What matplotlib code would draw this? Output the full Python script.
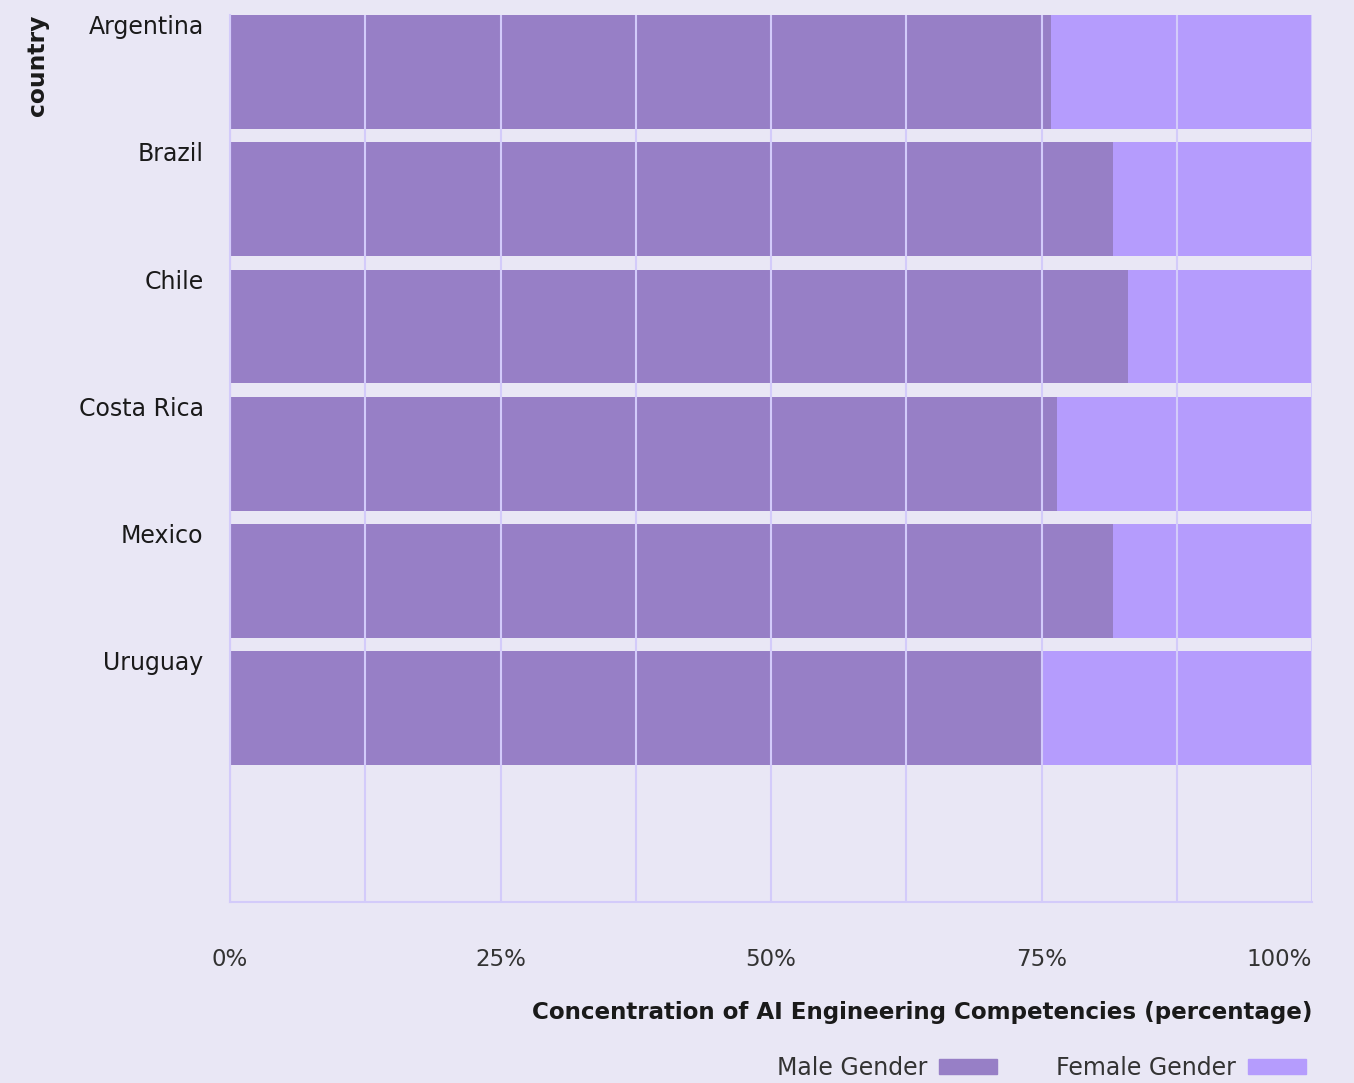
import matplotlib.pyplot as plt
import matplotlib.patches as mpatches
import numpy as np

plt.rcParams["font.family"] = ["DejaVu Sans"]

countries = ["Argentina", "Brazil", "Chile", "Costa Rica", "Mexico", "Uruguay"]
male = [75.9, 81.6, 83.0, 76.4, 81.6, 75.1]
female = [100 - m for m in male]

bg = "#E9E7F5"
male_color = "#977FC6"
female_color = "#B59CFD"
grid_color = "#D3CBFA"
text_color = "#1a1a1a"

fig = plt.figure(figsize=(13.54, 10.83), dpi=100, facecolor=bg)
ax = fig.add_axes([230 / 1354, 1 - 902 / 1083, 1082 / 1354, 887 / 1083])
ax.set_facecolor(bg)

y = np.arange(len(countries))
bar_h = 0.895
ax.barh(y, male, height=bar_h, align="edge", color=male_color, zorder=1)
ax.barh(y, female, left=male, height=bar_h, align="edge", color=female_color, zorder=1)

ax.set_xlim(0, 100)
ax.set_ylim(6.97, 0)

ax.set_xticks([0, 25, 50, 75, 100])
ax.set_xticklabels(["0%", "25%", "50%", "75%", "100%"], fontsize=16.5, color="#333333")
ax.get_xticklabels()[-1].set_ha("right")
ax.set_xticks(np.arange(0, 100.1, 12.5), minor=True)
ax.grid(axis="x", which="both", color=grid_color, linewidth=1.5, zorder=2)
ax.set_axisbelow(False)
ax.tick_params(axis="x", which="both", length=0, pad=33)

ax.set_yticks(y)
ax.set_yticklabels(countries, fontsize=17, color=text_color, va="top")
ax.tick_params(axis="y", length=0, pad=19)

for side in ["top", "right"]:
    ax.spines[side].set_visible(False)
for side in ["left", "bottom"]:
    ax.spines[side].set_color(grid_color)
    ax.spines[side].set_linewidth(1.5)

ax.set_xlabel("Concentration of AI Engineering Competencies (percentage)",
              fontsize=16.6, fontweight="bold", color=text_color, loc="right", labelpad=22)

fig.text(38 / 1354, 1 - 15 / 1083, "country", rotation=90, fontsize=16.8,
         fontweight="bold", color=text_color, ha="center", va="top")

handles = [mpatches.Patch(color=male_color, label="Male Gender"),
           mpatches.Patch(color=female_color, label="Female Gender")]
fig.legend(handles=handles, loc="lower right", bbox_to_anchor=(1327 / 1354, -0.017),
           ncol=2, frameon=False, markerfirst=False, fontsize=17,
           handlelength=2.45, handleheight=0.6, handletextpad=0.5, columnspacing=2.5,
           labelcolor="#333333")

fig.savefig("out.png", dpi=100, facecolor=bg)
